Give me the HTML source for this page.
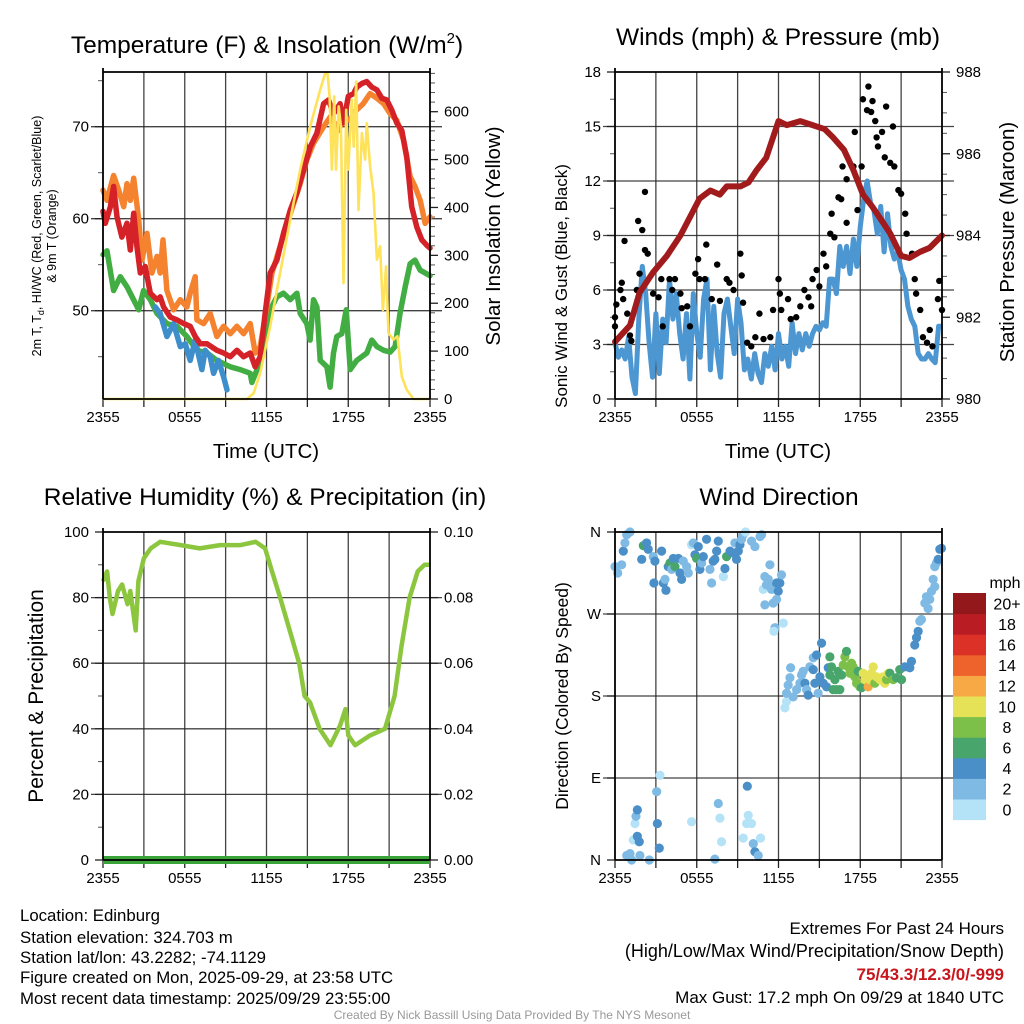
<!DOCTYPE html>
<html><head><meta charset="utf-8"><style>
html,body{margin:0;padding:0;background:#fff;}
svg{display:block;font-family:"Liberation Sans",Arial,sans-serif;}
</style></head><body>
<svg id="c" width="1024" height="1024" viewBox="0 0 1024 1024" xmlns="http://www.w3.org/2000/svg">
<rect width="1024" height="1024" fill="#fff"/>
<g font-size="24.5" text-anchor="middle" fill="#000">
<text x="267" y="53">Temperature (F) &amp; Insolation (W/m<tspan font-size="15" dy="-10">2</tspan><tspan dy="10">)</tspan></text>
<text x="778" y="45">Winds (mph) &amp; Pressure (mb)</text>
<text x="265" y="505">Relative Humidity (%) &amp; Precipitation (in)</text>
<text x="779" y="505">Wind Direction</text>
</g>
<g font-size="20.5" text-anchor="middle">
<text x="266" y="458">Time (UTC)</text>
<text x="778" y="458">Time (UTC)</text>
<text transform="translate(500,236) rotate(-90)">Solar Insolation (Yellow)</text>
<text transform="translate(567,286) rotate(-90)" font-size="17">Sonic Wind &amp; Gust (Blue, Black)</text>
<text transform="translate(1014,242) rotate(-90)">Station Pressure (Maroon)</text>
<text transform="translate(43,696) rotate(-90)" font-size="21">Percent &amp; Precipitation</text>
<text transform="translate(568,696) rotate(-90)" font-size="17.5">Direction (Colored By Speed)</text>
</g>
<g font-size="12.5" text-anchor="middle">
<text transform="translate(41,236) rotate(-90)">2m T, T<tspan font-size="9" dy="3">d</tspan><tspan dy="-3">, HI/WC (Red, Green, Scarlet/Blue)</tspan></text>
<text transform="translate(56,236) rotate(-90)">&amp; 9m T (Orange)</text>
</g>
<g id="p1"></g>
<g id="p2"></g>
<g id="p3"></g>
<g id="p4"></g>
<g id="cb"></g>
<g font-size="16.8" fill="#000">
<text x="20" y="921">Location: Edinburg</text>
<text x="20" y="943">Station elevation: 324.703 m</text>
<text x="20" y="963">Station lat/lon: 43.2282; -74.1129</text>
<text x="20" y="983">Figure created on Mon, 2025-09-29, at 23:58 UTC</text>
<text x="20" y="1004">Most recent data timestamp: 2025/09/29 23:55:00</text>
</g>
<g font-size="17" text-anchor="end">
<text x="1004" y="934">Extremes For Past 24 Hours</text>
<text x="1004" y="957" font-size="18">(High/Low/Max Wind/Precipitation/Snow Depth)</text>
<text x="1004" y="980" fill="#c8161d" font-weight="bold">75/43.3/12.3/0/-999</text>
<text x="1004" y="1003">Max Gust: 17.2 mph On 09/29 at 1840 UTC</text>
</g>
<text x="512" y="1019" font-size="12" fill="#999" text-anchor="middle">Created By Nick Bassill Using Data Provided By The NYS Mesonet</text>
</svg>
<script>
// ---------- data ----------
const xTickLabels = ["2355","0555","1155","1755","2355"];
const xTickHours = [0,6,12,18,24];
// temperature panel
const redH = [0,0.17,0.54,0.78,1.03,1.39,1.76,2.0,2.25,2.49,2.74,3.1,3.47,3.96,4.2,4.45,4.94,5.43,5.92,6.4,6.77,7.14,7.63,8.36,8.85,9.34,9.83,10.32,10.8,11.17,11.54,11.9,12.27,12.76,13.25,13.74,14.23,14.72,15.21,15.7,16.19,16.55,16.92,17.4,17.65,18.0,18.39,18.63,19.0,19.36,19.73,20.1,20.46,20.83,21.2,21.56,21.93,22.3,22.66,23.03,23.4,23.77,24];
const redT = [60.8,59.5,61.3,63.5,60.2,58.0,59.5,56.6,60.6,57.0,54.1,54.8,51.9,51.2,51.5,50.4,49.3,49.0,48.6,48.3,47.2,46.4,46.4,45.7,45.4,45.0,45.7,45.0,45.4,43.9,45.0,49.7,54.1,55.5,58.4,60.9,62.8,65.3,67.8,69.3,72.5,72.9,71.4,72.5,70.4,73.3,73.6,74.3,74.7,74.9,74.3,74.0,73.1,72.9,71.8,70.4,69.6,66.7,61.3,59.1,57.7,57.1,56.8];
const orangeH = [0,0.29,0.78,1.15,1.52,1.76,2.0,2.25,2.62,2.86,3.23,3.59,3.96,4.2,4.4,4.69,5.18,5.67,6.16,6.4,6.77,6.89,7.38,7.87,8.36,8.85,9.34,9.83,10.32,10.8,11.17,11.54,11.9,12.4,13.0,13.74,14.47,14.96,15.45,16.19,16.7,17.3,17.65,18.1,18.6,19.1,19.6,20.1,20.6,21.08,21.56,22.05,22.54,22.9,23.28,23.64,24];
const orangeT = [63.1,62.0,64.7,63.1,61.3,63.8,62.0,64.4,59.9,55.5,58.4,54.1,55.9,54.1,57.7,52.2,50.1,51.2,50.4,51.9,53.7,49.0,48.6,49.7,47.2,48.3,47.5,48.3,47.5,48.6,45.4,46.1,49.3,54.1,57.0,60.5,63.8,66.4,68.2,70.0,71.1,69.6,71.1,70.7,71.8,72.5,73.6,73.1,72.5,71.4,70.7,68.6,64.6,63.5,62.0,59.5,60.2];
const greenH = [0,0.29,0.78,1.27,1.76,2.62,2.98,3.47,3.96,4.69,5.43,6.16,6.89,7.63,8.36,9.34,10.07,10.8,10.93,11.3,11.78,12.27,12.76,13.25,13.74,14.23,14.47,14.96,15.2,15.45,15.7,15.94,16.43,16.67,16.92,17.16,17.53,17.85,18.14,18.63,19.36,19.73,20.1,20.6,21.08,21.44,21.8,22.18,22.54,22.9,23.28,24];
const greenT = [56.1,56.5,52.2,53.7,52.6,50.1,52.2,51.2,49.7,48.6,48.3,47.2,45.7,45.4,44.6,43.9,43.6,43.2,42.2,43.6,45.7,50.1,51.5,51.9,51.2,51.9,49.7,48.6,46.8,51.2,50.4,44.6,43.9,41.7,45.4,47.2,47.5,50.1,43.6,44.6,45.4,46.8,46.1,45.7,45.5,46.1,49.7,52.6,55.1,55.5,54.4,53.8];
const blueH = [3.84,4.2,4.69,5.18,5.67,6.04,6.4,6.77,7.26,7.5,7.87,8.12,8.48,8.85,9.1];
const blueT = [50.4,49.7,47.2,48.6,46.1,46.4,44.6,46.8,43.6,45.7,45.0,43.2,44.6,42.8,41.4];
const solarH = [0,10.56,11.05,11.54,12.27,13.0,13.74,14.47,15.21,15.94,16.3,16.48,16.63,16.8,16.97,17.1,17.3,17.46,17.65,17.85,18.0,18.26,18.4,18.58,18.75,19.0,19.24,19.36,19.6,19.85,20.1,20.34,20.54,20.78,20.95,21.32,21.61,21.93,22.3,22.79,24];
const solarW = [0,0,12,54,152,263,374,479,569,646,680,680,632,479,632,479,611,569,242,604,479,625,527,663,395,555,500,576,486,430,291,319,186,277,138,124,131,47,19,0,0];
// wind panel
const windStep = 0.25;
const windMph = [3.1,2.3,2.7,2.2,3.4,1.2,0.3,4.4,7.3,5.8,3.1,1.2,4.7,1.4,4.4,3.1,6.6,4.4,5.8,3.6,2.2,4.7,1.1,5.8,3.6,2.3,5.5,6.6,1.6,5.1,2.5,1.2,4.7,5.5,4.0,2.5,5.5,4.2,1.6,2.2,1.1,2.5,1.4,0.9,2.5,1.8,2.9,1.6,3.6,2.2,2.9,1.8,4.2,2.5,3.6,2.7,3.6,2.9,3.6,4.0,3.8,4.2,4.0,6.6,6.6,5.8,8.4,7.3,8.4,6.9,8.8,7.3,9.5,11.0,12.0,10.8,10.4,9.1,10.6,8.1,10.2,8.4,7.7,8.1,7.1,6.6,5.1,4.4,4.0,2.5,2.2,2.2,2.5,2.2,2.0,4.0,4.0];
const gustH = [0,0,0.1,0.4,0.5,0.6,0.7,0.9,1.1,1.2,1.6,1.7,1.8,2.0,2.2,2.2,2.4,2.8,3.2,3.4,3.5,4.0,4.2,4.4,4.8,4.9,5.3,5.5,5.9,6.1,6.2,6.6,6.7,7.1,7.5,7.7,8.2,8.4,8.7,9.2,9.3,9.4,9.7,10.0,10.3,10.6,10.9,11.4,11.6,12.0,12.1,12.2,12.7,12.9,13.3,13.6,13.9,14.2,14.4,14.5,14.8,15.0,15.3,15.5,15.8,15.9,16.1,16.4,16.6,16.7,17.0,17.0,17.5,17.6,17.8,18.1,18.2,18.5,18.6,18.8,18.9,19.1,19.2,19.3,19.6,19.8,19.9,20.2,20.4,20.5,20.8,21.0,21.3,21.4,21.8,22.0,22.1,22.4,22.6,22.9,23.1,23.3,23.7,23.8,24.0];
const gustMph = [4.0,4.5,5.2,6.0,6.4,5.5,8.7,4.7,3.5,3.2,6.0,9.8,6.9,9.3,11.4,8.2,8.0,5.8,5.6,6.6,4.0,6.6,6.0,6.6,5.8,5.0,5.1,4.0,6.9,7.7,6.6,6.6,8.5,5.5,7.4,5.4,6.6,6.4,6.0,8.0,6.8,5.3,3.1,2.9,3.4,4.7,3.3,3.4,4.9,6.6,5.8,4.9,5.5,4.4,4.5,5.1,6.0,5.6,5.1,6.6,7.1,6.2,8.0,7.3,9.1,10.2,8.9,11.1,11.0,12.8,9.7,12.1,12.8,14.7,10.4,12.8,16.5,15.9,17.2,15.8,16.4,15.3,14.4,13.9,14.7,13.3,16.1,13.0,15.0,12.8,11.5,11.3,10.2,9.1,8.0,6.6,5.8,4.9,3.4,3.1,3.8,2.9,5.5,6.5,4.9];
const presH = [0,1.1,1.8,2.8,3.8,4.8,6.2,7.0,7.7,8.2,9.2,9.8,10.4,11.1,12.0,12.6,13.6,14.5,15.4,16.0,16.8,17.5,18.2,18.9,19.7,20.2,21.0,21.6,22.4,23.1,24];
const presMb = [981.4,981.8,982.6,983.1,983.5,984.0,984.9,985.1,985.0,985.2,985.2,985.3,985.6,985.9,986.8,986.7,986.8,986.7,986.6,986.4,986.1,985.6,985.0,984.7,984.3,984.05,983.5,983.45,983.6,983.7,984.0];
// humidity panel
const rhH = [0,0.3,0.5,0.7,1.1,1.4,1.8,2.0,2.4,2.6,3.0,3.5,4.2,5.7,7.1,8.6,10.1,11.2,11.9,12.4,13.0,13.7,14.4,14.8,15.2,15.9,16.7,17.4,17.8,18.0,18.5,19.6,20.7,21.4,21.9,22.5,23.1,23.6,24];
const rhPct = [85,88,80,75,82,84,78,82,70,85,92,95,97,96,95,96,96,97,95,88,80,70,60,50,48,40,35,41,46,38,35,38,40,50,65,80,88,90,90];
const precipIn = [0,0];
// direction panel
const dirH = [0,0.2,0.49,0.61,0.73,0.86,1.1,1.96,2.08,2.32,2.44,2.81,2.93,2.86,3.42,3.55,3.67,3.74,3.91,4.03,4.16,4.28,4.4,4.65,4.77,4.89,5.01,5.26,5.38,5.62,5.75,5.87,5.99,6.11,6.23,6.36,6.48,6.72,6.97,7.09,7.21,7.33,7.46,7.58,7.95,8.07,8.19,8.44,8.68,8.8,8.92,9.05,9.17,9.29,9.41,9.58,10.02,10.27,10.64,10.76,10.88,11.0,11.12,11.25,11.37,11.49,11.61,11.86,11.98,12.1,12.22,11.0,11.61,11.86,11.74,11.66,12.35,
12.47,12.59,12.59,12.71,12.84,12.89,13.08,13.33,13.57,13.69,13.81,13.94,14.06,14.18,14.3,14.55,14.55,14.67,14.79,14.91,15.04,15.16,15.28,15.53,15.65,15.77,15.77,15.89,16.01,16.14,16.26,16.38,16.5,16.63,16.75,16.87,16.99,17.11,17.24,17.36,17.48,17.6,17.73,17.85,17.97,18.09,18.22,18.34,18.46,18.58,18.7,18.83,18.95,19.07,19.19,19.44,19.68,19.8,19.93,20.05,20.17,20.42,20.66,20.9,21.03,21.27,21.52,21.64,21.76,22.0,22.13,22.25,22.37,22.49,22.74,22.86,22.98,23.1,23.23,23.35,23.47,23.47,23.59,23.72,23.84,23.96,
0.86,1.1,1.22,1.34,1.47,1.54,1.64,1.64,1.78,1.83,2.52,3.06,3.11,3.25,3.3,5.62,7.33,7.58,7.7,7.82,9.41,9.66,9.78,9.71,10.02,10.15,10.27,10.51,10.68];
const dirDeg = [322,315,324,339,348,357,360,330,345,348,341,333,328,304,339,304,308,296,322,326,319,331,322,331,315,308,328,322,315,346,348,335,331,344,319,326,333,352,319,304,328,330,339,350,311,320,333,339,337,348,330,339,346,352,357,360,350,344,355,357,297,311,302,308,324,297,300,304,295,304,313,280,282,286,255,251,260,
167,174,183,192,200,211,179,187,194,203,207,194,187,181,212,209,222,194,225,183,201,238,194,190,211,223,203,212,187,198,187,207,187,203,214,223,229,212,205,216,212,201,194,207,190,189,205,198,201,190,198,205,212,194,201,198,201,194,198,205,205,198,200,209,198,212,212,211,218,236,244,251,262,264,282,289,276,286,295,308,300,322,326,330,341,342,
5,7,0,22,40,48,55,26,20,5,0,75,40,13,93,42,1,62,46,20,24,40,49,81,40,18,9,5,24];
const dirSpd = [3,3,3,5,3,3,3,5,7,5,5,3,5,5,5,5,3,5,5,7,3,5,7,5,5,5,3,3,3,1,3,5,7,5,5,3,5,5,3,3,5,5,5,5,1,5,7,5,5,3,5,5,5,3,3,1,3,3,3,3,1,3,3,3,3,3,3,5,5,5,3,3,3,3,3,1,1,
1,1,3,3,3,3,3,3,3,3,3,5,3,5,3,5,3,5,5,3,5,5,5,5,5,7,7,7,7,7,7,7,7,7,9,9,7,9,9,9,9,9,9,7,9,7,11,11,11,13,11,11,11,9,11,11,11,11,9,11,7,9,7,7,7,5,5,5,5,5,5,5,3,3,3,3,3,3,3,3,3,3,3,5,5,5,
3,3,3,1,1,3,5,5,5,3,3,3,5,5,1,1,3,3,1,1,1,1,1,5,1,3,5,3,1];
const speedLabels = ["0","2","4","6","8","10","12","14","16","18","20+"];
const speedColors = ["#b4e2f7","#7fbae4","#4a8fc7","#48a66d","#7cc04a","#e6e257","#f6a945","#ee622b","#dc3127","#b91c23","#93181c"];

// ---------- helpers ----------
const NS = "http://www.w3.org/2000/svg";
function mk(parent, tag, attrs){
  const e = document.createElementNS(NS, tag);
  for (const k in attrs) e.setAttribute(k, attrs[k]);
  parent.appendChild(e);
  return e;
}
function lin(d0,d1,r0,r1){ return v => r0 + (v-d0)*(r1-r0)/(d1-d0); }
function pathD(xs, ys, sx, sy){
  let d = "";
  for (let i=0;i<xs.length;i++) d += (i?"L":"M") + sx(xs[i]).toFixed(1) + "," + sy(ys[i]).toFixed(1);
  return d;
}
function frame(g, L, R, T, B, sx, hGrid){
  for (let h=3; h<24; h+=3){
    const gl = mk(g,"line",{x1:sx(h),x2:sx(h),y1:T,y2:B,stroke:"#222","stroke-width":1.3,"stroke-opacity":0.85});
    
    
  }
  hGrid.forEach(y=>{
    const gl = mk(g,"line",{x1:L-12,x2:R+12,y1:y,y2:y,stroke:"#222","stroke-width":1.3,"stroke-opacity":0.85});
    
    
  });
  for (let h=0; h<=24; h+=3){
    const t = mk(g,"line",{x1:sx(h),x2:sx(h),y1:B,y2:B+8,stroke:"#222","stroke-width":1.3});
    
    
  }
  xTickHours.forEach((h,i)=>{
    const t = mk(g,"text",{x:sx(h),y:B+23,"font-size":15,"text-anchor":"middle"});
    t.textContent = xTickLabels[i];
    
    
  });
}
function borders(g,L,R,T,B){
  const ax = mk(g,"path",{d:`M${L},${T-4}V${B}M${R},${T-4}V${B}M${L},${T}H${R}M${L},${B}H${R}`,stroke:"#000","stroke-width":1.8,fill:"none"});
  
  
}
function yTicks(g, vals, labels, sy, x, side, fs){
  vals.forEach((v,i)=>{
    const tk = mk(g,"line",{x1:x,x2:x+(side<0?-8:8),y1:sy(v),y2:sy(v),stroke:"#222","stroke-width":1.3});
    
    
    const t = mk(g,"text",{x:x+(side<0?-14:14),y:sy(v)+5,"font-size":fs||15,"text-anchor":side<0?"end":"start"});
    t.textContent = labels[i];
    
    
  });
}
function minor(g, vals, sy, x, side){
  vals.forEach(v=>{
    const tk = mk(g,"line",{x1:x,x2:x+side*5,y1:sy(v),y2:sy(v),stroke:"#555","stroke-width":1});
    
    
  });
}

// ---------- panel 1 ----------
(function(){
  const g = document.getElementById("p1");
  const L=103,R=430,T=72,B=399;
  const sx = lin(0,24,L,R), sy = lin(50,70,310.7,126.7), sw = lin(0,600,399,111.7);
  frame(g,L,R,T,B,sx,[sy(50),sy(60),sy(70)]);
  yTicks(g,[50,60,70],["50","60","70"],sy,L,-1);
  minor(g,[45,55,65,75],sy,L,-1);
  const wv=[0,100,200,300,400,500,600];
  yTicks(g,wv,wv.map(String),sw,R,1);
  const mv=[]; for(let w=20;w<=680;w+=20) if(w%100) mv.push(w);
  minor(g,mv,sw,R,1);
  const series = [
    [greenH,greenT,"#42ad42","dewpoint-line"],
    [blueH,blueT,"#3d8ecb","windchill-line"],
    [orangeH,orangeT,"#f5822f","temp-9m-line"],
    [redH,redT,"#d42228","temp-2m-line"]];
  series.forEach(s=>{
    const p = mk(g,"path",{d:pathD(s[0],s[1],sx,sy),stroke:s[2],"stroke-width":5.5,fill:"none","stroke-linejoin":"round","stroke-linecap":"round"});
    
    
  });
  const y = mk(g,"path",{d:pathD(solarH,solarW,sx,sw),stroke:"#fde25a","stroke-width":2.6,fill:"none","stroke-linejoin":"round"});
  
  
  borders(g,L,R,T,B);
})();

// ---------- panel 2 ----------
(function(){
  const g = document.getElementById("p2");
  const L=615,R=942,T=72,B=399;
  const sx = lin(0,24,L,R), sy = lin(0,18,B,T), sp = lin(980,988,B,T);
  const mv=[0,3,6,9,12,15,18];
  frame(g,L,R,T,B,sx,mv.filter(v=>v>0&&v<18).map(sy));
  yTicks(g,mv,mv.map(String),sy,L,-1);
  minor(g,[1.5,4.5,7.5,10.5,13.5,16.5],sy,L,-1);
  const pv=[980,982,984,986,988];
  yTicks(g,pv,pv.map(String),sp,R,1);
  const pm=[]; for(let p=980.5;p<988;p+=0.5) if(p%2) pm.push(p);
  minor(g,pm,sp,R,1);
  const wh = windMph.map((v,i)=>i*windStep);
  const w = mk(g,"path",{d:pathD(wh,windMph,sx,sy),stroke:"#4c96d2","stroke-width":5,fill:"none","stroke-linejoin":"round"});
  
  
  gustH.forEach((h,i)=>{
    const c = mk(g,"circle",{cx:sx(h),cy:sy(gustMph[i]),r:3.2,fill:"#000"});
    
    
  });
  const p = mk(g,"path",{d:pathD(presH,presMb,sx,sp),stroke:"#a11b1d","stroke-width":6,fill:"none","stroke-linejoin":"round","stroke-linecap":"round"});
  
  
  borders(g,L,R,T,B);
})();

// ---------- panel 3 ----------
(function(){
  const g = document.getElementById("p3");
  const L=103,R=430,T=532,B=860;
  const sx = lin(0,24,L,R), sy = lin(0,100,B,T), sr = lin(0,0.1,B,T);
  const v=[0,20,40,60,80,100];
  frame(g,L,R,T,B,sx,v.filter(a=>a>0&&a<100).map(sy));
  yTicks(g,v,v.map(String),sy,L,-1);
  minor(g,[10,30,50,70,90],sy,L,-1);
  const pv=[0,0.02,0.04,0.06,0.08,0.1];
  yTicks(g,pv,pv.map(a=>a.toFixed(2)),sr,R,1);
  const r = mk(g,"path",{d:pathD(rhH,rhPct,sx,sy),stroke:"#8cc63e","stroke-width":4.5,fill:"none","stroke-linejoin":"round"});
  
  
  const pr = mk(g,"path",{d:pathD([0,24],precipIn,sx,sr),stroke:"#3aa33a","stroke-width":8,fill:"none"});
  
  
  borders(g,L,R,T,B);
})();

// ---------- panel 4 ----------
(function(){
  const g = document.getElementById("p4");
  const L=615,R=942,T=532,B=860;
  const sx = lin(0,24,L,R), sy = lin(0,360,B,T);
  const dv=[0,90,180,270,360], dl=["N","E","S","W","N"];
  frame(g,L,R,T,B,sx,[90,180,270].map(sy));
  yTicks(g,dv,dl,sy,L,-1);
  dirH.forEach((h,i)=>{
    const ci = Math.min(10, Math.floor(dirSpd[i]/2));
    const c = mk(g,"circle",{cx:sx(h),cy:sy(dirDeg[i]),r:4.6,fill:speedColors[ci]});
    
    
  });
  borders(g,L,R,T,B);
})();

// ---------- colorbar ----------
(function(){
  const g = document.getElementById("cb");
  const top=593, h=20.6;
  const t0 = mk(g,"text",{x:1005,y:588,"font-size":16,"text-anchor":"middle"});
  t0.textContent = "mph";
  
  
  speedColors.forEach((c,i)=>{
    const y = top + (10-i)*h;
    const r = mk(g,"rect",{x:953,y:y,width:33,height:h+0.5,fill:c});
    
    
    const t = mk(g,"text",{x:1007,y:y+h/2+6,"font-size":16,"text-anchor":"middle"});
    t.textContent = speedLabels[i];
    
    
  });
})();
</script>
</body></html>
